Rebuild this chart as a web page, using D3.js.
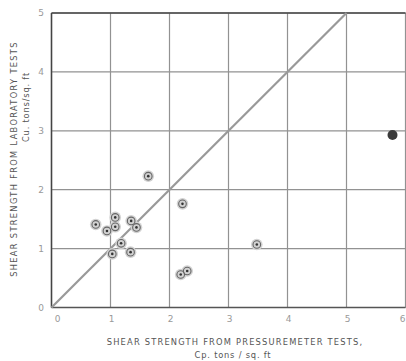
<!DOCTYPE html>
<html>
<head>
<meta charset="utf-8">
<script src="https://cdn.jsdelivr.net/npm/d3@7"></script>
<style>
  body { margin: 0; background: #fff; }
  svg text { font-family: "DejaVu Sans", sans-serif; fill: #555; }
</style>
</head>
<body>
<svg id="chart" width="406" height="361"></svg>
<script>
// pressuremeter Cp (x) vs laboratory Cu (y), tons / sq.ft
const cpValues = [1.64, 2.22, 0.75, 1.08, 1.08, 0.94, 1.35, 1.44, 1.18, 1.03, 1.34, 2.19, 2.30, 3.48];
const cuValues = [2.23, 1.76, 1.41, 1.53, 1.37, 1.30, 1.47, 1.36, 1.09, 0.91, 0.94, 0.56, 0.62, 1.07];
// the odd one out near the right edge, drawn as a solid blob
const outlierCp = [5.78];
const outlierCu = [2.93];
const xTicks = [0, 1, 2, 3, 4, 5, 6];
const yTicks = [0, 1, 2, 3, 4, 5];

const svg = d3.select("#chart");

const x = d3.scaleLinear().domain([0, 6]).range([51.5, 405.5]);
const y = d3.scaleLinear().domain([0, 5]).range([307.5, 13]);

// grid
svg.append("g")
  .selectAll("line.v")
  .data(xTicks)
  .join("line")
  .attr("x1", d => x(d)).attr("x2", d => x(d))
  .attr("y1", y(0)).attr("y2", y(5))
  .attr("stroke", "#929292")
  .attr("stroke-width", 1.2);

svg.append("g")
  .selectAll("line.h")
  .data(yTicks)
  .join("line")
  .attr("x1", x(0)).attr("x2", x(6))
  .attr("y1", d => y(d)).attr("y2", d => y(d))
  .attr("stroke", "#929292")
  .attr("stroke-width", 1.2);

// frame: left axis, top and bottom
svg.append("line")
  .attr("x1", x(0)).attr("x2", x(0)).attr("y1", y(0)).attr("y2", y(5))
  .attr("stroke", "#444").attr("stroke-width", 1.5);
svg.append("line")
  .attr("x1", x(0)).attr("x2", x(6)).attr("y1", y(5)).attr("y2", y(5))
  .attr("stroke", "#444").attr("stroke-width", 1.5);
svg.append("line")
  .attr("x1", x(0)).attr("x2", x(6)).attr("y1", y(0)).attr("y2", y(0))
  .attr("stroke", "#555").attr("stroke-width", 1.5);

// 1:1 line
svg.append("line")
  .attr("x1", x(0)).attr("y1", y(0))
  .attr("x2", x(5)).attr("y2", y(5))
  .attr("stroke", "#999")
  .attr("stroke-width", 2.2);

// tick labels
svg.append("g")
  .selectAll("text")
  .data(xTicks)
  .join("text")
  .attr("x", d => d === 0 ? x(d) + 6 : (d === 6 ? x(d) - 3 : x(d) + 1))
  .attr("y", 322)
  .attr("text-anchor", "middle")
  .attr("font-size", 9)
  .style("fill", "#999")
  .text(d => d);

svg.append("g")
  .selectAll("text")
  .data(yTicks)
  .join("text")
  .attr("x", 41)
  .attr("y", d => y(d) + 3)
  .attr("text-anchor", "middle")
  .attr("font-size", 9)
  .style("fill", "#999")
  .text(d => d);

// points
const pts = cpValues.map((v, i) => ({cp: v, cu: cuValues[i]}));
const g = svg.append("g");
g.selectAll("circle.halo")
  .data(pts)
  .join("circle")
  .attr("cx", d => x(d.cp)).attr("cy", d => y(d.cu))
  .attr("r", 5.8)
  .attr("fill", "#d2d2d2");
g.selectAll("circle.ring")
  .data(pts)
  .join("circle")
  .attr("cx", d => x(d.cp)).attr("cy", d => y(d.cu))
  .attr("r", 3.8)
  .attr("fill", "none")
  .attr("stroke", "#666")
  .attr("stroke-width", 1.1);
g.selectAll("circle.dot")
  .data(pts)
  .join("circle")
  .attr("cx", d => x(d.cp)).attr("cy", d => y(d.cu))
  .attr("r", 1.3)
  .attr("fill", "#333");

const outliers = outlierCp.map((v, i) => ({cp: v, cu: outlierCu[i]}));
svg.append("g")
  .selectAll("circle")
  .data(outliers)
  .join("circle")
  .attr("cx", d => x(d.cp)).attr("cy", d => y(d.cu))
  .attr("r", 5)
  .attr("fill", "#3a3a3a");

// axis titles
svg.append("text")
  .attr("x", 235).attr("y", 345)
  .attr("text-anchor", "middle")
  .attr("font-size", 8.3)
  .attr("letter-spacing", 1.2)
  .text("SHEAR STRENGTH FROM PRESSUREMETER TESTS,");
svg.append("text")
  .attr("x", 233).attr("y", 358)
  .attr("text-anchor", "middle")
  .attr("font-size", 8.3)
  .attr("letter-spacing", 0.8)
  .text("Cp. tons  /  sq. ft");

svg.append("text")
  .attr("transform", "translate(17,159) rotate(-90)")
  .attr("text-anchor", "middle")
  .attr("font-size", 8.3)
  .attr("letter-spacing", 1.3)
  .text("SHEAR STRENGTH FROM LABORATORY TESTS");
svg.append("text")
  .attr("transform", "translate(29,107) rotate(-90)")
  .attr("text-anchor", "middle")
  .attr("font-size", 8.3)
  .attr("letter-spacing", 0.8)
  .text("Cu. tons/sq. ft");
</script>
</body>
</html>
